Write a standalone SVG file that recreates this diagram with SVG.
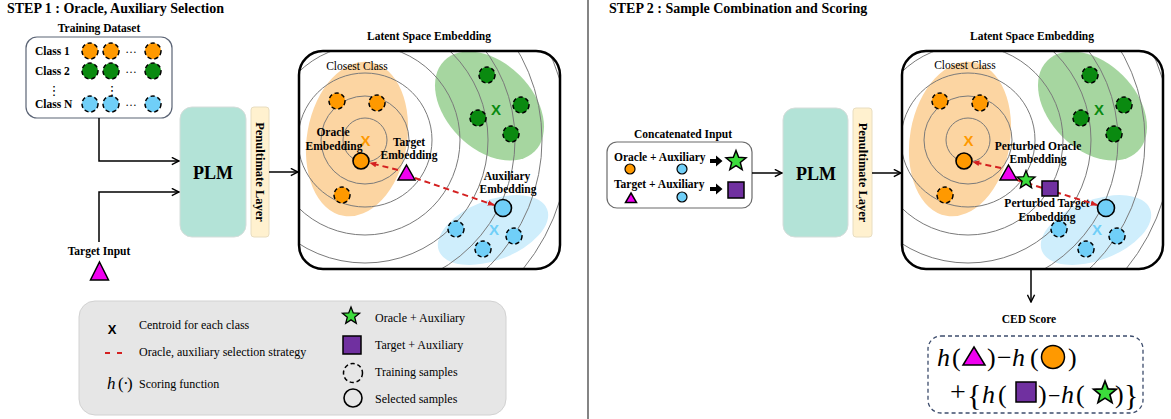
<svg xmlns="http://www.w3.org/2000/svg" width="1171" height="419" viewBox="0 0 1171 419">
<style>
text{font-family:"Liberation Serif","Times New Roman",serif;fill:#000}
.ttl{font-size:14px;font-weight:bold}
.lbl{font-size:11.5px;font-weight:bold}
.reg{font-size:11.5px}
.leg{font-size:12px}
.mid{text-anchor:middle}
.xm{font-family:"Liberation Sans",Arial,sans-serif;font-weight:bold;font-size:15px;text-anchor:middle}
.dash{stroke:#000;stroke-width:1.5;stroke-dasharray:4.2 2.8}
.sel{stroke:#000;stroke-width:1.6}
.or{fill:#FF9900}
.gr{fill:#0A8A10}
.bl{fill:#70CFF8}
.ring{fill:none;stroke:#7a7a7a;stroke-width:1}
.arr{fill:none;stroke:#000;stroke-width:1.5;marker-end:url(#ah)}
.red{fill:none;stroke:#D42020;stroke-width:2;stroke-dasharray:6 4;marker-end:url(#ahr)}
.tri{fill:#F000F0;stroke:#000;stroke-width:1.5}
.sq{fill:#7030A0;stroke:#000;stroke-width:1.5}
.st{fill:#3CDC3C;stroke:#000;stroke-width:1.4}
.plm{fill:#B3E3D7;stroke:#D5DDDA;stroke-width:1}
.pen{fill:#FFF1CF;stroke:#E8DDC0;stroke-width:1}
.box{fill:none;stroke:#000;stroke-width:2.5}
.math{font-size:26px}
</style>
<defs>
<marker id="ah" viewBox="0 0 10 10" refX="9" refY="5" markerWidth="9" markerHeight="9" markerUnits="userSpaceOnUse" orient="auto"><path d="M1,1 L9,5 L1,9" fill="none" stroke="#000" stroke-width="1.6"/></marker>
<marker id="ahr" viewBox="0 0 10 10" refX="9" refY="5" markerWidth="7" markerHeight="7" markerUnits="userSpaceOnUse" orient="auto"><path d="M0,1 L10,5 L0,9 Z" fill="#D42020"/></marker>
<clipPath id="latClip"><rect x="299" y="51" width="261" height="218" rx="24"/></clipPath>
<path id="star" d="M0,-10 L2.53,-3.48 L9.51,-3.09 L4.09,1.33 L5.88,8.09 L0,4.3 L-5.88,8.09 L-4.09,1.33 L-9.51,-3.09 L-2.53,-3.48 Z"/>
<g id="latBg">
<ellipse cx="357" cy="139" rx="50" ry="78" transform="rotate(10 357 139)" fill="#FCD5A2"/>
<ellipse cx="489.5" cy="106" rx="64" ry="43" transform="rotate(45 489.5 106)" fill="#A6D6A0"/>
<ellipse cx="493" cy="230" rx="58" ry="30" transform="rotate(-21 493 230)" fill="#CFEEFC"/>
<g clip-path="url(#latClip)" class="ring">
<circle cx="365" cy="140" r="22"/><circle cx="365" cy="140" r="44"/><circle cx="365" cy="140" r="67"/><circle cx="365" cy="140" r="95"/><circle cx="365" cy="140" r="123"/><circle cx="365" cy="140" r="150"/><circle cx="365" cy="140" r="177"/><circle cx="365" cy="140" r="204"/>
</g>
<circle cx="337" cy="101" r="8" class="or dash"/><circle cx="377" cy="103" r="8" class="or dash"/><circle cx="342" cy="195" r="8" class="or dash"/>
<circle cx="361" cy="161" r="8" class="or sel"/>
<circle cx="487" cy="75" r="8" class="gr dash"/><circle cx="478" cy="118" r="8" class="gr dash"/><circle cx="521" cy="105" r="8" class="gr dash"/><circle cx="511" cy="134" r="8" class="gr dash"/>
<circle cx="456" cy="229" r="8" class="bl dash"/><circle cx="483" cy="249" r="8" class="bl dash"/><circle cx="514" cy="236" r="8" class="bl dash"/>
<circle cx="503" cy="208" r="8.5" class="bl sel"/>
<text class="xm" x="365.5" y="146" style="fill:#FF9900">X</text>
<text class="xm" x="496" y="115" style="fill:#0A8A10">X</text>
<text class="xm" x="494" y="235" style="fill:#70CFF8">X</text>
</g>
</defs>
<rect width="1171" height="419" fill="#fff"/>

<g id="title1"><text class="ttl" x="7" y="13">STEP 1 : Oracle, Auxiliary Selection</text></g>
<g id="title2"><text class="ttl" x="609" y="13">STEP 2 : Sample Combination and Scoring</text></g>
<g id="divider"><line x1="588" y1="0" x2="588" y2="419" stroke="#333" stroke-width="1.2"/></g>

<g id="dataset">
<text class="lbl mid" x="99" y="32">Training Dataset</text>
<rect x="26" y="37" width="146" height="81" rx="11" fill="#fff" stroke="#5b6475" stroke-width="1.2"/>
<text class="lbl" x="35" y="55">Class 1</text>
<text class="lbl" x="35" y="75">Class 2</text>
<text class="lbl" x="35" y="108">Class N</text>
<text x="54" y="95" style="font-family:'DejaVu Sans',sans-serif;font-size:13px;text-anchor:middle">⋮</text>
<text x="112" y="95" style="font-family:'DejaVu Sans',sans-serif;font-size:13px;text-anchor:middle">⋮</text>
<circle cx="90" cy="51" r="8" class="or dash"/><circle cx="111" cy="51" r="8" class="or dash"/><circle cx="153" cy="51" r="8" class="or dash"/>
<circle cx="90" cy="71" r="8" class="gr dash"/><circle cx="111" cy="71" r="8" class="gr dash"/><circle cx="153" cy="71" r="8" class="gr dash"/>
<circle cx="90" cy="104" r="8" class="bl dash"/><circle cx="111" cy="104" r="8" class="bl dash"/><circle cx="153" cy="104" r="8" class="bl dash"/>
<text class="reg mid" x="131" y="53">…</text>
<text class="reg mid" x="131" y="73">…</text>
<text class="reg mid" x="131" y="106">…</text>
</g>

<g id="plm1">
<rect x="180" y="107" width="66" height="130" rx="12" class="plm"/>
<text class="mid" x="213" y="179" style="font-size:18px;font-weight:bold">PLM</text>
</g>
<g id="penult1">
<rect x="251" y="107" width="18" height="130" rx="3" class="pen"/>
<text class="mid" transform="translate(260,172) rotate(90)" x="0" y="4" style="font-size:12.5px;font-weight:bold">Penultimate Layer</text>
</g>

<g id="targetInput">
<text class="lbl mid" x="99" y="255">Target Input</text>
<polygon points="99.5,262 108.5,280 90.5,280" class="tri"/>
</g>

<g id="latent1">
<text class="lbl mid" x="429" y="40">Latent Space Embedding</text>
<use href="#latBg"/>
<rect x="299" y="51" width="261" height="218" rx="24" class="box"/>
<text class="reg mid" x="357" y="70">Closest Class</text>
<text class="lbl mid" x="333" y="136">Oracle</text>
<text class="lbl mid" x="334" y="150">Embedding</text>
<text class="lbl mid" x="409" y="146">Target</text>
<text class="lbl mid" x="409" y="159">Embedding</text>
<text class="lbl mid" x="507" y="180">Auxiliary</text>
<text class="lbl mid" x="508" y="193">Embedding</text>
<polygon points="406.5,165 415,180 398,180" class="tri"/>
</g>

<g id="legend">
<rect x="79" y="301" width="427" height="114" rx="16" fill="#E6E6E6" stroke="#D2D2D2"/>
<text class="xm" x="112" y="334" style="font-size:13px">X</text>
<text class="leg" x="139" y="329">Centroid for each class</text>
<line x1="105" y1="353" x2="123" y2="353" stroke="#D42020" stroke-width="2" stroke-dasharray="5 7"/>
<text class="leg" x="139" y="356">Oracle, auxiliary selection strategy</text>
<text y="389" style="font-size:17px"><tspan x="107" font-style="italic">h</tspan><tspan x="118">(</tspan><tspan x="123">·</tspan><tspan x="127">)</tspan></text>
<text class="leg" x="139" y="388">Scoring function</text>
<use href="#star" transform="translate(351,316) scale(0.9)" class="st"/>
<text class="leg" x="375" y="322">Oracle + Auxiliary</text>
<rect x="343" y="336" width="18" height="18" class="sq"/>
<text class="leg" x="375" y="349">Target + Auxiliary</text>
<circle cx="353" cy="373" r="9.5" fill="none" class="dash"/>
<text class="leg" x="375" y="376">Training samples</text>
<circle cx="353" cy="398" r="9" fill="none" class="sel"/>
<text class="leg" x="375" y="403">Selected samples</text>
</g>

<g id="concatInput">
<text class="lbl mid" x="683" y="138">Concatenated Input</text>
<rect x="607" y="142" width="145" height="66" rx="10" fill="#fff" stroke="#6b6b6b" stroke-width="1.2"/>
<text class="lbl" x="614" y="161">Oracle + Auxiliary</text>
<text class="lbl" x="614" y="188">Target + Auxiliary</text>
<circle cx="630" cy="169" r="5" class="or" stroke="#000" stroke-width="1.2"/>
<circle cx="682" cy="169" r="5" class="bl" stroke="#000" stroke-width="1.2"/>
<polygon points="631,193 636.5,202.5 625.5,202.5" class="tri" stroke-width="1.2"/>
<circle cx="682" cy="197" r="5" class="bl" stroke="#000" stroke-width="1.2"/>
<path d="M710,159 h6 v-3.5 l6.5,5.5 l-6.5,5.5 v-3.5 h-6 z" fill="#000"/>
<path d="M710,187 h6 v-3.5 l6.5,5.5 l-6.5,5.5 v-3.5 h-6 z" fill="#000"/>
<use href="#star" transform="translate(736,161) scale(1.05)" class="st"/>
<rect x="728" y="182" width="16" height="16" class="sq"/>
</g>

<g id="plm2">
<rect x="783" y="108" width="65" height="129" rx="12" class="plm"/>
<text class="mid" x="816" y="180" style="font-size:18px;font-weight:bold">PLM</text>
</g>
<g id="penult2">
<rect x="853" y="108" width="19" height="129" rx="3" class="pen"/>
<text class="mid" transform="translate(862.5,172.5) rotate(90)" x="0" y="4" style="font-size:12.5px;font-weight:bold">Penultimate Layer</text>
</g>

<g id="latent2">
<text class="lbl mid" x="1032" y="40">Latent Space Embedding</text>
<use href="#latBg" transform="translate(603,0)"/>
<rect x="902" y="51" width="261" height="218" rx="24" class="box"/>
<text class="reg mid" x="965" y="69">Closest Class</text>
<text class="lbl mid" x="1038" y="150">Perturbed Oracle</text>
<text class="lbl mid" x="1038" y="163">Embedding</text>
<text class="lbl mid" x="1047" y="207">Perturbed Target</text>
<text class="lbl mid" x="1047" y="221">Embedding</text>
</g>

<g id="connectors">
<path d="M99,118 V161 H179" class="arr"/>
<path d="M99,242 V192 H179" class="arr"/>
<path d="M269,172 H298" class="arr"/>
<path d="M752,173 H782" class="arr"/>
<path d="M872,173 H901" class="arr"/>
<path d="M1031,270 V302" class="arr"/>
<path d="M398,170 L370,163" class="red"/>
<path d="M415,178 L494,205" class="red"/>
<path d="M1001,168 L973,162" class="red"/>
<path d="M1017,180 L1097,205" class="red"/>
</g>

<g id="latent2-markers">
<polygon points="1008.5,165 1017,180 1000,180" class="tri"/>
<use href="#star" transform="translate(1026,180) scale(0.95)" class="st"/>
<rect x="1042" y="181" width="16" height="15" class="sq"/>
</g>

<g id="cedScore">
<text class="lbl mid" x="1029" y="323">CED Score</text>
<rect x="928" y="336" width="215" height="77" rx="13" fill="none" stroke="#3C4C6C" stroke-width="1.3" stroke-dasharray="4 3"/>
<text class="math" y="366"><tspan x="937" font-style="italic">h</tspan><tspan x="952">(</tspan><tspan x="987">)</tspan><tspan x="997">−</tspan><tspan x="1012" font-style="italic">h</tspan><tspan x="1030">(</tspan><tspan x="1068">)</tspan></text>
<polygon points="974,347 985,365 963,365" class="tri"/>
<circle cx="1053" cy="357" r="11.5" class="or" stroke="#000" stroke-width="1.5"/>
<text x="950" y="401" style="font-size:28px">+</text>
<text x="967" y="405" style="font-size:30px">{</text>
<text class="math" y="403"><tspan x="982" font-style="italic">h</tspan><tspan x="998">(</tspan><tspan x="1038">)</tspan><tspan x="1048" style="font-size:22px">−</tspan><tspan x="1061" font-style="italic">h</tspan><tspan x="1076">(</tspan><tspan x="1115">)</tspan></text>
<text x="1124" y="405" style="font-size:30px">}</text>
<rect x="1016" y="382" width="20" height="20" class="sq"/>
<use href="#star" transform="translate(1105,393) scale(1.2)" class="st"/>
</g>
</svg>
